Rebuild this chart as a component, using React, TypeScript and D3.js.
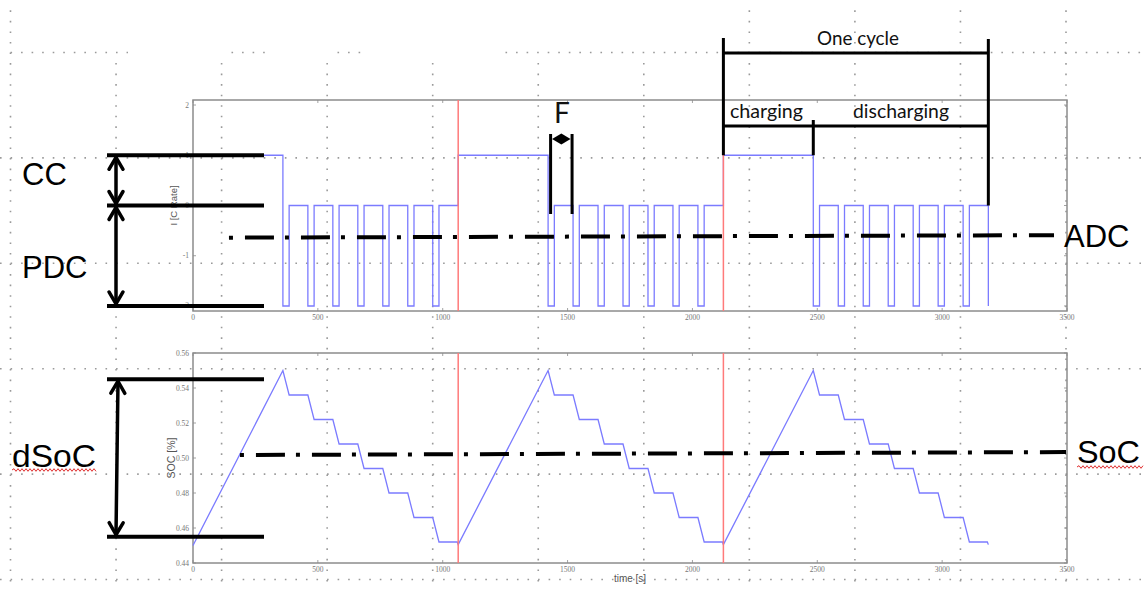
import React from 'react';
import * as d3 from 'd3';

const W = 1146;
const H = 590;

// axis ticks
const timeTicks = [0, 500, 1000, 1500, 2000, 2500, 3000, 3500];
const currentTicks = [-2, -1, 0, 1, 2];
const socTicks = [0.44, 0.46, 0.48, 0.5, 0.52, 0.54, 0.56];

// current profile (value holds from each time until the next one)
const currentTime = [
  0, 360, 385, 460, 485, 560, 585, 660, 685, 760, 785, 860, 885, 960, 985,
  1062, 1422, 1447, 1522, 1547, 1622, 1647, 1722, 1747, 1822, 1847, 1922, 1947, 2022, 2047,
  2124, 2484, 2509, 2584, 2609, 2684, 2709, 2784, 2809, 2884, 2909, 2984, 3009, 3084, 3109,
  3185,
];
const currentValue = [
  1, -2, 0, -2, 0, -2, 0, -2, 0, -2, 0, -2, 0, -2, 0,
  1, -2, 0, -2, 0, -2, 0, -2, 0, -2, 0, -2, 0, -2, 0,
  1, -2, 0, -2, 0, -2, 0, -2, 0, -2, 0, -2, 0, -2, 0,
  -2,
];

// state of charge
const socTime = [
  0, 360, 385, 460, 485, 560, 585, 660, 685, 760, 785, 860, 885, 960, 985, 1058, 1062,
  1422, 1447, 1522, 1547, 1622, 1647, 1722, 1747, 1822, 1847, 1922, 1947, 2022, 2047, 2120, 2124,
  2484, 2509, 2584, 2609, 2684, 2709, 2784, 2809, 2884, 2909, 2984, 3009, 3084, 3109, 3181, 3185,
];
const socValue = [
  0.45, 0.55, 0.536, 0.536, 0.522, 0.522, 0.508, 0.508, 0.494, 0.494, 0.48, 0.48, 0.466, 0.466, 0.452, 0.452, 0.4505,
  0.55, 0.536, 0.536, 0.522, 0.522, 0.508, 0.508, 0.494, 0.494, 0.48, 0.48, 0.466, 0.466, 0.452, 0.452, 0.4505,
  0.55, 0.536, 0.536, 0.522, 0.522, 0.508, 0.508, 0.494, 0.494, 0.48, 0.48, 0.466, 0.466, 0.452, 0.452, 0.4505,
];

// red markers at cycle starts
const cycleStarts = [1062, 2124];

// annotation values
const ccLevels = [1, 0, -2];
const adcTime = [144, 3448];
const adcValue = [-0.64, -0.59];
const meanSocTime = [188, 3496];
const meanSocValue = [0.5017, 0.5034];
const dSocLevels = [0.545, 0.455];
const oneCycle = [2124, 3185];
const chargeEnd = 2484;
const pulseF = [1432, 1518];

const x = d3.scaleLinear().domain([0, 3500]).range([193, 1067]);
const yI = d3.scaleLinear().domain([-2.1, 2.1]).range([311, 100]);
const yS = d3.scaleLinear().domain([0.44, 0.56]).range([563, 353]);

const currentLine = d3
  .line<number>()
  .x((_, i) => x(currentTime[i]))
  .y((d) => yI(d))
  .curve(d3.curveStepAfter);

const socLine = d3
  .line<number>()
  .x((_, i) => x(socTime[i]))
  .y((d) => yS(d));

const ANN = '#000';
const BLUE = '#7b7bff';
const RED = '#ff7a7a';
const FRAME = '#8c8c8c';

function chevron(tx: number, ty: number, fx: number, fy: number, len = 12, half = 7) {
  const dx = tx - fx;
  const dy = ty - fy;
  const L = Math.hypot(dx, dy);
  const ux = dx / L;
  const uy = dy / L;
  const px = -uy;
  const py = ux;
  const bx = tx - ux * len;
  const by = ty - uy * len;
  return `M${bx + px * half},${by + py * half}L${tx},${ty}L${bx - px * half},${by - py * half}`;
}

function doubleArrow(x1: number, y1: number, x2: number, y2: number, key: string) {
  return (
    <g key={key} stroke={ANN} fill="none" strokeWidth={3.5} strokeLinecap="round" strokeLinejoin="round">
      <line x1={x1} y1={y1} x2={x2} y2={y2} />
      <path d={chevron(x1, y1, x2, y2)} />
      <path d={chevron(x2, y2, x1, y1)} />
    </g>
  );
}

function wavy(x0: number, x1: number, y: number) {
  let d = `M${x0},${y}`;
  let up = true;
  for (let xx = x0 + 2; xx <= x1; xx += 2) {
    d += `L${xx},${up ? y - 1.3 : y + 1.3}`;
    up = !up;
  }
  return d;
}

function Frame({ yScale, ticks, fmt }: { yScale: d3.ScaleLinear<number, number>; ticks: number[]; fmt: (v: number) => string }) {
  const [y0, y1] = yScale.range();
  const x0 = x(0);
  const x1 = x(3500);
  return (
    <g>
      <rect x={x0} y={y1} width={x1 - x0} height={y0 - y1} fill="none" stroke={FRAME} strokeWidth={1.5} />
      {timeTicks.map((t) => (
        <g key={`xt${t}`}>
          <line x1={x(t)} x2={x(t)} y1={y0} y2={y0 - 3} stroke={FRAME} strokeWidth={0.8} />
          <line x1={x(t)} x2={x(t)} y1={y1} y2={y1 + 3} stroke={FRAME} strokeWidth={0.8} />
          <text x={x(t)} y={y0 + 9} textAnchor="middle" fontFamily="Liberation Serif" fontSize={7.5} fill="#777">
            {t}
          </text>
        </g>
      ))}
      {ticks.map((v) => (
        <g key={`yt${v}`}>
          <line x1={x0} x2={x0 + 3} y1={yScale(v)} y2={yScale(v)} stroke={FRAME} strokeWidth={0.8} />
          <line x1={x1} x2={x1 - 3} y1={yScale(v)} y2={yScale(v)} stroke={FRAME} strokeWidth={0.8} />
          <text x={x0 - 4} y={yScale(v) + 2.5} textAnchor="end" fontFamily="Liberation Serif" fontSize={7.5} fill="#777">
            {fmt(v)}
          </text>
        </g>
      ))}
    </g>
  );
}

export default function App() {
  const gridX = d3.range(11).map((i) => 10.5 + i * 105.55);
  const gridY = d3.range(6).map((i) => 52.5 + i * 105.4);
  // pieces of the top guide line that are not hidden
  const topGuide = [[0, 128], [221, 268], [327, 362], [495, W]];
  const xL = 107;
  const xR = 264;
  const fMid = (x(pulseF[0]) + x(pulseF[1])) / 2;

  return (
    <svg width={W} height={H} style={{ position: 'absolute', left: 0, top: 0, background: '#fff' }}>
      <rect x={0} y={0} width={W} height={H} fill="#fff" />

      {/* slide guide grid */}
      <g stroke="#9a9a9a" strokeWidth={1.6} strokeDasharray="1.6 8.95">
        {gridX.map((gx, i) => {
          const start = i === 0 || gx > 700 ? gridY[0] - 42.2 : gridY[0] + 10.5;
          return <line key={`gx${gx}`} x1={gx} x2={gx} y1={start} y2={H} />;
        })}
        {gridY.slice(1).map((gy) => (
          <line key={`gy${gy}`} x1={0} x2={W} y1={gy} y2={gy} />
        ))}
        {topGuide.map(([a, b]) => (
          <line key={`tg${a}`} x1={a + 10.5} x2={b} y1={gridY[0]} y2={gridY[0]} />
        ))}
      </g>

      {/* current plot */}
      <Frame yScale={yI} ticks={currentTicks} fmt={(v) => `${v}`} />
      <text transform={`translate(177,${yI(0)}) rotate(-90)`} textAnchor="middle" fontFamily="Liberation Sans" fontSize={9.5} fill="#555">
        I [C Rate]
      </text>
      <path d={currentLine(currentValue) || ''} fill="none" stroke={BLUE} strokeWidth={1.3} />
      {cycleStarts.map((t) => (
        <line key={`ri${t}`} x1={x(t)} x2={x(t)} y1={yI.range()[1]} y2={yI.range()[0]} stroke={RED} strokeWidth={1.5} />
      ))}

      {/* SOC plot */}
      <Frame yScale={yS} ticks={socTicks} fmt={(v) => v.toFixed(2)} />
      <text transform={`translate(175,${yS(0.5)}) rotate(-90)`} textAnchor="middle" fontFamily="Liberation Sans" fontSize={10.5} fill="#555">
        SOC [%]
      </text>
      <text x={630} y={582} textAnchor="middle" fontFamily="Liberation Sans" fontSize={10} fill="#555">
        time [s]
      </text>
      <path d={socLine(socValue) || ''} fill="none" stroke={BLUE} strokeWidth={1.3} />
      {cycleStarts.map((t) => (
        <line key={`rs${t}`} x1={x(t)} x2={x(t)} y1={yS.range()[1]} y2={yS.range()[0]} stroke={RED} strokeWidth={1.5} />
      ))}

      {/* level markers, left side */}
      <g stroke={ANN} strokeWidth={4}>
        {ccLevels.map((v) => (
          <line key={`cc${v}`} x1={xL} x2={xR} y1={yI(v)} y2={yI(v)} />
        ))}
        {dSocLevels.map((v) => (
          <line key={`ds${v}`} x1={xL} x2={xR} y1={yS(v)} y2={yS(v)} />
        ))}
      </g>
      {doubleArrow(116, yI(1) + 2, 116, yI(0) - 2, 'cc')}
      {doubleArrow(116, yI(0) + 2, 116, yI(-2) - 2, 'pdc')}
      {doubleArrow(118, yS(dSocLevels[0]) + 2, 116, yS(dSocLevels[1]) - 2, 'dsoc')}

      {/* average lines */}
      <line x1={x(adcTime[0])} x2={x(adcTime[1])} y1={yI(adcValue[0])} y2={yI(adcValue[1])} stroke={ANN} strokeWidth={4} strokeDasharray="4 12 29 11" />
      <line x1={x(meanSocTime[0])} x2={x(meanSocTime[1])} y1={yS(meanSocValue[0])} y2={yS(meanSocValue[1])} stroke={ANN} strokeWidth={4} strokeDasharray="4 12 29 11" />

      {/* cycle brackets */}
      <g stroke={ANN} strokeWidth={3} fill="none">
        <line x1={x(oneCycle[0])} x2={x(oneCycle[0])} y1={38} y2={yI(1)} />
        <line x1={x(oneCycle[1])} x2={x(oneCycle[1])} y1={39} y2={yI(0)} />
        <line x1={x(oneCycle[0])} x2={x(oneCycle[1])} y1={53} y2={53} />
        <line x1={x(oneCycle[0])} x2={x(oneCycle[1])} y1={126} y2={126} />
        <line x1={x(chargeEnd)} x2={x(chargeEnd)} y1={120} y2={yI(1)} />
        <line x1={x(pulseF[0])} x2={x(pulseF[0])} y1={134} y2={214} />
        <line x1={x(pulseF[1])} x2={x(pulseF[1])} y1={134} y2={214} />
      </g>
      <g fill={ANN}>
        <path d={`M${x(pulseF[0]) + 1.5},139L${fMid},133.5L${x(pulseF[1]) - 1.5},139L${fMid},144.5Z`} />
      </g>

      {/* bracket labels */}
      <g fontFamily="Lato, 'Open Sans', sans-serif" fill="#111">
        <text x={817} y={45} fontSize={19} textLength={82} lengthAdjust="spacingAndGlyphs">One cycle</text>
        <text x={730} y={118} fontSize={19} textLength={73} lengthAdjust="spacingAndGlyphs">charging</text>
        <text x={853} y={118} fontSize={19} textLength={96} lengthAdjust="spacingAndGlyphs">discharging</text>
        <text x={554} y={123} fontSize={28}>F</text>
      </g>

      {/* big labels */}
      <g fontFamily="Liberation Sans, Arial, sans-serif" fill="#000" fontSize={31}>
        <text x={22} y={185}>CC</text>
        <text x={22} y={278}>PDC</text>
        <text x={12} y={467} textLength={84} lengthAdjust="spacingAndGlyphs">dSoC</text>
        <text x={1064} y={247}>ADC</text>
        <text x={1077} y={463} textLength={63} lengthAdjust="spacingAndGlyphs">SoC</text>
      </g>
      <path d={wavy(12, 97, 470)} fill="none" stroke="#e03030" strokeWidth={1} />
      <path d={wavy(1077, 1143, 467)} fill="none" stroke="#e03030" strokeWidth={1} />
    </svg>
  );
}
